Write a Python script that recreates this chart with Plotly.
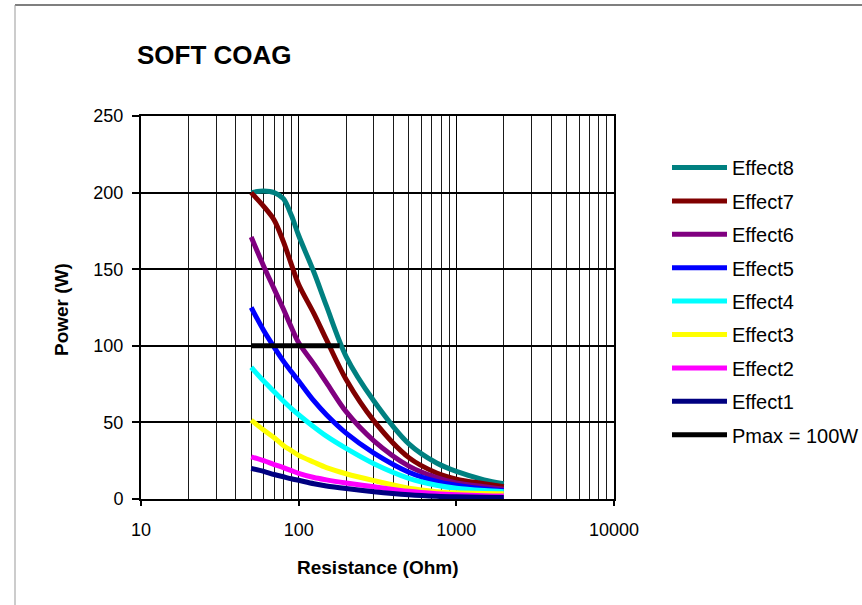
import plotly.graph_objects as go

# ---- data ----
resistance = [50, 60, 70, 80, 90, 100, 125, 150, 200, 300, 500, 750, 1000, 1500, 2000]

effect8 = [200, 201, 200, 196, 185, 172, 148, 126, 93, 64, 36, 23.5, 18, 12.5, 10]
effect7 = [200, 191, 182, 168, 153, 140, 121, 104, 78, 51, 27, 17, 13, 10, 8]
effect6 = [171, 152, 137, 124, 112, 102, 88, 76, 57, 38, 21.5, 14, 10.5, 8, 6.3]
effect5 = [125, 110, 99, 90, 83, 77, 64, 55, 43, 30, 17.5, 11.5, 9, 6.5, 5.4]
effect4 = [86, 77, 70, 64, 59, 55, 47, 41, 33, 23, 13.5, 9, 7, 5.5, 4.8]
effect3 = [51.5, 45, 40, 35, 31.5, 28.5, 24, 20.5, 16.5, 12, 7, 4.8, 4, 3.6, 3.5]
effect2 = [27.5, 25, 22.5, 20.5, 18.5, 16.8, 14, 12.5, 10.5, 8, 5, 3.5, 2.8, 2.2, 2]
effect1 = [20, 18, 16, 14.5, 13.2, 12.2, 10, 8.5, 6.8, 4.8, 2.8, 1.8, 1.4, 1.1, 1]

pmax_resistance = [50, 182]
pmax_power = [100, 100]

series_names = ["Effect8", "Effect7", "Effect6", "Effect5",
                "Effect4", "Effect3", "Effect2", "Effect1"]
series_values = [effect8, effect7, effect6, effect5,
                 effect4, effect3, effect2, effect1]
series_colors = ["#008080", "#800000", "#800080", "#0000FF",
                 "#00FFFF", "#FFFF00", "#FF00FF", "#000080"]

x_tickvals = [10, 100, 1000, 10000]
x_ticktext = ["10", "100", "1000", "10000"]
y_tickvals = [0, 50, 100, 150, 200, 250]

FONT = "Liberation Sans, Arial, sans-serif"

fig = go.Figure()
for name, vals, col in zip(series_names, series_values, series_colors):
    fig.add_trace(go.Scatter(
        x=resistance, y=vals, name=name, mode="lines",
        line=dict(color=col, width=5, shape="spline", smoothing=0.9),
        legendgroup=name,
    ))
fig.add_trace(go.Scatter(
    x=pmax_resistance, y=pmax_power, name="Pmax = 100W", mode="lines",
    line=dict(color="#000000", width=5), legendgroup="pmax",
))

# plot-area pixel geometry
W, H = 862, 605
L, R, T, B = 141, 614, 116, 499
pw, ph = R - L, B - T

def px(xp):
    return (xp - L) / pw

def py(yp):
    return (B - yp) / ph

fig.update_layout(
    width=W, height=H,
    margin=dict(l=L, r=W - R, t=T, b=H - B, autoexpand=False),
    paper_bgcolor="white", plot_bgcolor="white",
    font=dict(family=FONT, size=18, color="black"),
    showlegend=True,
    legend=dict(
        x=px(667), y=py(148), xanchor="left", yanchor="top",
        font=dict(family=FONT, size=20, color="black"),
        tracegroupgap=4.4, itemwidth=55, bgcolor="rgba(0,0,0,0)",
    ),
    annotations=[
        dict(text="<b>SOFT COAG</b>", xref="paper", yref="paper",
             x=px(135), y=py(55), xanchor="left", yanchor="middle",
             showarrow=False, font=dict(family=FONT, size=26, color="black")),
        dict(text="<b>Power (W)</b>", xref="paper", yref="paper",
             x=px(61), y=py(310), xanchor="center", yanchor="middle",
             textangle=-90, showarrow=False,
             font=dict(family=FONT, size=19, color="black")),
        dict(text="<b>Resistance (Ohm)</b>", xref="paper", yref="paper",
             x=px(378), y=py(567), xanchor="center", yanchor="middle",
             showarrow=False, font=dict(family=FONT, size=19, color="black")),
    ],
    shapes=[
        dict(type="line", xref="paper", yref="paper",
             x0=px(15), x1=px(870), y0=py(5), y1=py(5),
             line=dict(color="#555555", width=1.5)),
        dict(type="line", xref="paper", yref="paper",
             x0=px(15), x1=px(15), y0=py(5), y1=py(610),
             line=dict(color="#999999", width=1)),
    ],
)

fig.update_xaxes(
    type="log", range=[1, 4],
    tickvals=x_tickvals, ticktext=x_ticktext,
    ticks="outside", ticklen=5, tickwidth=2, tickcolor="black",
    ticklabelstandoff=8,
    showgrid=True, gridcolor="#000000", gridwidth=1.4,
    minor=dict(dtick="D1", showgrid=True, gridcolor="#1a1a1a", gridwidth=1.4),
    showline=True, linecolor="black", linewidth=2, mirror=True,
    tickfont=dict(family=FONT, size=18, color="black"),
    zeroline=False,
)
fig.update_yaxes(
    range=[0, 250], tickvals=y_tickvals,
    ticks="outside", ticklen=7, tickwidth=2, tickcolor="black",
    ticklabelstandoff=5,
    showgrid=True, gridcolor="#000000", gridwidth=1.5,
    showline=True, linecolor="black", linewidth=2, mirror=True,
    tickfont=dict(family=FONT, size=18, color="black"),
    zeroline=False,
)

# remove the browser's default 8px body margin so the figure sits at (0,0)
fig.write_html("out.html", config={"displayModeBar": False},
               post_script="document.body.style.margin='0';")
